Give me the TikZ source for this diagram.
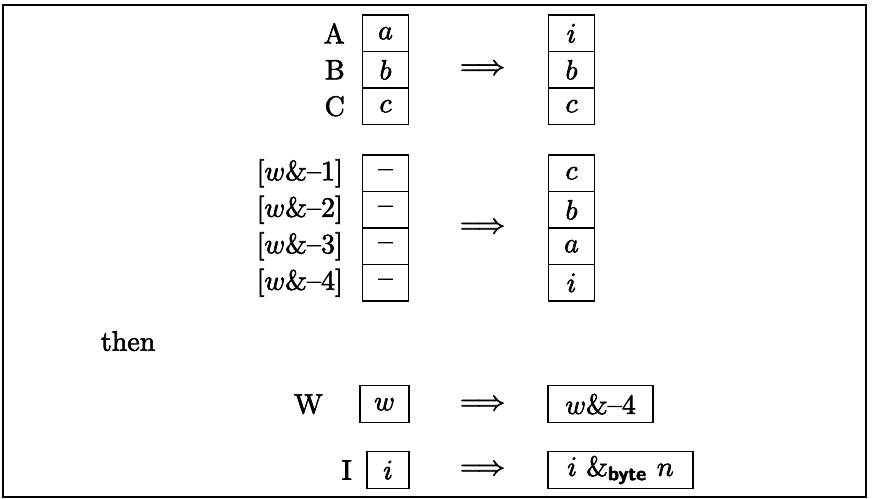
\documentclass[tikz,border=0pt]{standalone}
\usepackage{amsmath}
\usepackage{graphicx}
\newcommand\BigT[1]{\scalebox{2.8}{\special{pdf:literal 2 Tr 0.22 w}#1\special{pdf:literal 0 Tr}}}
\begin{document}
\begin{tikzpicture}[x=1pt,y=-1pt,
  every node/.style={font=\fontsize{10}{12}\selectfont},
  cell/.style={draw,line width=1.5pt,inner sep=0pt,minimum height=36.5pt,minimum width=46pt},
  wcell/.style={draw,line width=1.5pt,inner sep=0pt,minimum height=37pt},
  lab/.style={anchor=east,inner sep=0pt},
  arr/.style={inner sep=0pt}]
\useasboundingbox (0,0) rectangle (872,498);
\draw[line width=1.8pt] (866,5) -- (3,5) -- (3,497) -- (866,497) -- cycle;

% group 1
\node[cell] (l1) at (385.5,33.25) {\BigT{$a$}};
\node[cell] (l2) at (385.5,69.75) {\BigT{$b$}};
\node[cell] (l3) at (385.5,106.25) {\BigT{$c$}};
\node[lab] (A) at (345,33.25) {\BigT{A}};
\node[lab] (B) at (345,69.75) {\BigT{B}};
\node[lab] (C) at (345,106.25) {\BigT{C}};
\node[arr] (ar1) at (482.5,69.5) {\BigT{$\Longrightarrow$}};
\node[cell] (r1) at (571.5,33.25) {\BigT{$i$}};
\node[cell] (r2) at (571.5,69.75) {\BigT{$b$}};
\node[cell] (r3) at (571.5,106.25) {\BigT{$c$}};

% group 2
\node[cell] (m1) at (385.5,173.25) {\BigT{--}};
\node[cell] (m2) at (385.5,209.75) {\BigT{--}};
\node[cell] (m3) at (385.5,246.25) {\BigT{--}};
\node[cell] (m4) at (385.5,282.75) {\BigT{--}};
\node[lab] (k1) at (343,173.25) {\BigT{[$w$\&--1]}};
\node[lab] (k2) at (343,209.75) {\BigT{[$w$\&--2]}};
\node[lab] (k3) at (343,246.25) {\BigT{[$w$\&--3]}};
\node[lab] (k4) at (343,282.75) {\BigT{[$w$\&--4]}};
\node[arr] (ar2) at (482.5,228) {\BigT{$\Longrightarrow$}};
\node[cell] (s1) at (571.5,173.25) {\BigT{$c$}};
\node[cell] (s2) at (571.5,209.75) {\BigT{$b$}};
\node[cell] (s3) at (571.5,246.25) {\BigT{$a$}};
\node[cell] (s4) at (571.5,282.75) {\BigT{$i$}};

% then
\node[anchor=base west,inner sep=0pt] (then) at (100.7,350.7) {\BigT{then}};

% W line
\node[wcell,minimum width=49pt] (wbox) at (384.5,404.2) {\BigT{$w$}};
\node[lab] (W) at (323,404.2) {\BigT{W}};
\node[arr] (ar3) at (482.5,405) {\BigT{$\Longrightarrow$}};
\node[wcell,minimum width=105pt] (wres) at (600.5,404.2) {\BigT{$w$\&--4}};

% I line
\node[wcell,minimum width=42pt] (ibox) at (388,470) {\BigT{$i$}};
\node[lab] (I) at (352,470) {\BigT{I}};
\node[arr] (ar4) at (482.5,470) {\BigT{$\Longrightarrow$}};
\node[wcell,minimum width=145pt] (ires) at (620.5,470) {\BigT{$i$ \&$_{\textsf{\bfseries byte}}$ $n$}};
\end{tikzpicture}
\end{document}
